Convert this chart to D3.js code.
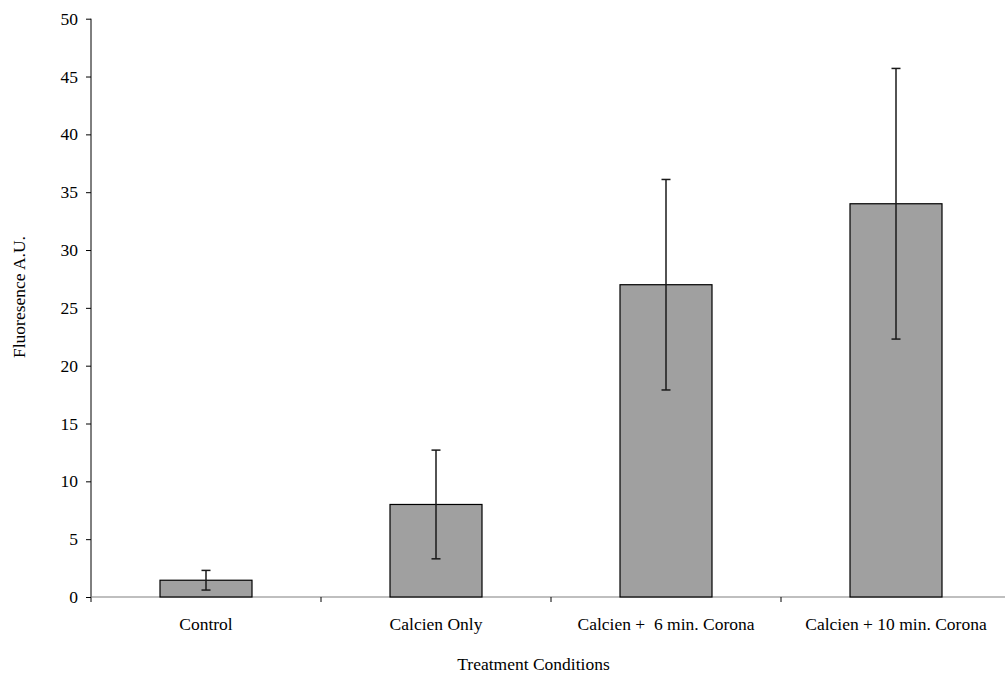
<!DOCTYPE html>
<html><head><meta charset="utf-8">
<script src="https://cdn.jsdelivr.net/npm/d3@7"></script>
<style>body{margin:0;background:#fff;} text{font-family:"Liberation Serif","Times New Roman",serif;fill:#000;white-space:pre;}</style>
</head><body><svg id="c" width="1005" height="675"></svg>
<script>
const categories = ["Control", "Calcien Only", "Calcien +  6 min. Corona", "Calcien + 10 min. Corona"];
const values = [1.45, 8.0, 27.0, 34.0];
const errLow = [0.6, 3.3, 17.9, 22.3];
const errHigh = [2.3, 12.7, 36.1, 45.7];
const yTicks = [0, 5, 10, 15, 20, 25, 30, 35, 40, 45, 50];

const svg = d3.select("#c");
const x0 = 91, x1 = 1011, yTop = 18.7, yBot = 597;
const x = d3.scaleBand().domain(categories).range([x0, x1]).paddingInner(0).paddingOuter(0);
const y = d3.scaleLinear().domain([0, 50]).range([yBot, yTop]);

// y axis
const ya = svg.append("g").attr("transform", `translate(${x0},0)`)
  .call(d3.axisLeft(y).tickValues(yTicks).tickSize(5).tickSizeOuter(0).tickPadding(8));
ya.select(".domain").remove();
ya.selectAll(".tick line").attr("stroke", "#000");
ya.selectAll(".tick text").style("font-size", "17.5px").attr("fill", "#000");
svg.append("line").attr("x1", x0).attr("x2", x0).attr("y1", yTop).attr("y2", yBot + 5).attr("stroke", "#000");

// x axis
svg.append("line").attr("x1", x0).attr("x2", x1).attr("y1", yBot).attr("y2", yBot).attr("stroke", "#808080").attr("stroke-width", 1.2);
categories.slice(1).forEach(c => {
  svg.append("line").attr("x1", x(c)).attr("x2", x(c)).attr("y1", yBot).attr("y2", yBot + 5).attr("stroke", "#000");
});
svg.selectAll(".xl").data(categories).enter().append("text")
  .attr("x", d => x(d) + x.bandwidth() / 2).attr("y", 629.5)
  .attr("text-anchor", "middle").style("font-size", "17.5px").text(d => d);

// bars
const bw = x.bandwidth() * 0.4;
svg.selectAll(".bar").data(categories).enter().append("rect")
  .attr("x", d => x(d) + x.bandwidth() / 2 - bw / 2)
  .attr("y", (d, i) => y(values[i]))
  .attr("width", bw)
  .attr("height", (d, i) => y(0) - y(values[i]))
  .attr("fill", "#a0a0a0").attr("stroke", "#000").attr("stroke-width", 1.2);

// error bars
const eg = svg.append("g").attr("stroke", "#1a1a1a").attr("stroke-width", 1.5);
categories.forEach((c, i) => {
  const cx = x(c) + x.bandwidth() / 2;
  eg.append("line").attr("x1", cx).attr("x2", cx).attr("y1", y(errLow[i])).attr("y2", y(errHigh[i]));
  [errLow[i], errHigh[i]].forEach(v => {
    eg.append("line").attr("x1", cx - 4.5).attr("x2", cx + 4.5).attr("y1", y(v)).attr("y2", y(v));
  });
});

// titles
svg.append("text").attr("x", 533.5).attr("y", 670).attr("text-anchor", "middle").style("font-size", "17.5px").text("Treatment Conditions");
svg.append("text").attr("transform", "translate(25,297) rotate(-90)").attr("text-anchor", "middle").style("font-size", "17.5px").text("Fluoresence A.U.");
</script></body></html>
